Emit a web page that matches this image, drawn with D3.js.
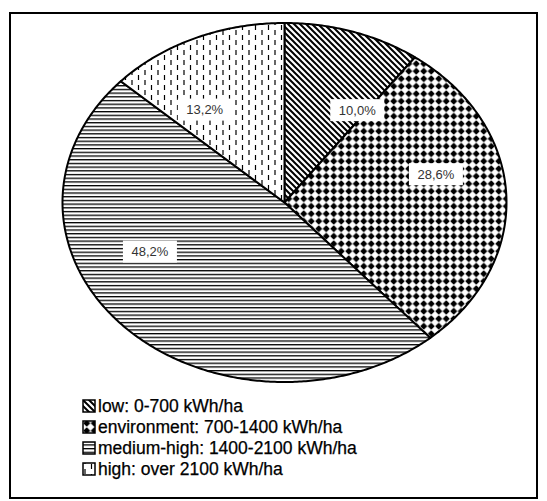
<!DOCTYPE html>
<html><head><meta charset="utf-8">
<script src="https://cdn.jsdelivr.net/npm/d3@7"></script>
<style>html,body{margin:0;padding:0;background:#fff;}svg{display:block;}</style>
</head><body>
<svg id="chart" width="547" height="501"></svg>
<script>
// ---- data ----
const categories = ["low: 0-700 kWh/ha", "environment: 700-1400 kWh/ha", "medium-high: 1400-2100 kWh/ha", "high: over 2100 kWh/ha"];
const values = [10.0, 28.6, 48.2, 13.2];
const valueLabels = ["10,0%", "28,6%", "48,2%", "13,2%"];

// ---- layout ----
const W = 547, H = 501;
const cx = 284.5, cy = 202.5, rx = 222, ry = 179.5;
const patternIds = ["pLow", "pEnv", "pMed", "pHigh"];
// label placement (angle offset in degrees, radius fraction) to mimic the original layout
const labelAngleOffset = [14.5, -10.5, 20, -11];
const labelRadius = [0.61, 0.70, 0.665, 0.63];

const svg = d3.select("#chart");
const defs = svg.append("defs");

// patterns
const pLow = defs.append("pattern").attr("id", "pLow").attr("patternUnits", "userSpaceOnUse")
  .attr("width", 6).attr("height", 6);
pLow.append("rect").attr("width", 6).attr("height", 6).attr("fill", "#fff");
pLow.append("path").attr("d", "M-1,-1L7,7M-1,5L1,7M5,-1L7,1").attr("stroke", "#000").attr("stroke-width", 2);

const pEnv = defs.append("pattern").attr("id", "pEnv").attr("patternUnits", "userSpaceOnUse")
  .attr("width", 7.5).attr("height", 7.5);
pEnv.append("rect").attr("width", 7.5).attr("height", 7.5).attr("fill", "#fff");
pEnv.append("path").attr("d", "M3.75,0.2L7.3,3.75L3.75,7.3L0.2,3.75Z").attr("fill", "#000");
pEnv.append("circle").attr("cx", 3.75).attr("cy", 3.75).attr("r", 2.3).attr("fill", "#000");

const pMed = defs.append("pattern").attr("id", "pMed").attr("patternUnits", "userSpaceOnUse")
  .attr("width", 8).attr("height", 3.7);
pMed.append("rect").attr("width", 8).attr("height", 3.7).attr("fill", "#fff");
pMed.append("rect").attr("y", 0).attr("width", 8).attr("height", 1.3).attr("fill", "#000");

const pHigh = defs.append("pattern").attr("id", "pHigh").attr("patternUnits", "userSpaceOnUse")
  .attr("width", 13).attr("height", 10);
pHigh.append("rect").attr("width", 13).attr("height", 10).attr("fill", "#fff");
pHigh.append("path").attr("d", "M2,0V5M8.5,5V10").attr("stroke", "#000").attr("stroke-width", 1.2);

// outer frame
svg.append("rect").attr("x", 10).attr("y", 13).attr("width", 527).attr("height", 485)
  .attr("fill", "#fff").attr("stroke", "#000").attr("stroke-width", 2);

// scales mapping unit ellipse to pixels
const xS = d3.scaleLinear().domain([-1, 1]).range([cx - rx, cx + rx]);
const yS = d3.scaleLinear().domain([-1, 1]).range([cy - ry, cy + ry]);

const pie = d3.pie().sort(null).value(d => d);
const arcs = pie(values);

function slicePath(a) {
  const n = Math.max(4, Math.ceil((a.endAngle - a.startAngle) / 0.01));
  const pts = [[xS(0), yS(0)]];
  for (let i = 0; i <= n; i++) {
    const t = a.startAngle + (a.endAngle - a.startAngle) * i / n;
    pts.push([xS(Math.sin(t)), yS(-Math.cos(t))]);
  }
  return d3.line()(pts) + "Z";
}

const g = svg.append("g");
g.selectAll("path.slice").data(arcs).join("path")
  .attr("class", "slice")
  .attr("d", slicePath)
  .attr("fill", (d, i) => `url(#${patternIds[i]})`)
  .attr("stroke", "#000").attr("stroke-width", 2).attr("stroke-linejoin", "round");

// labels
const lab = g.selectAll("g.lab").data(arcs).join("g").attr("class", "lab")
  .attr("transform", (d, i) => {
    const m = (d.startAngle + d.endAngle) / 2 + labelAngleOffset[i] * Math.PI / 180;
    const r = labelRadius[i];
    return `translate(${xS(r * Math.sin(m))},${yS(-r * Math.cos(m))})`;
  });
lab.append("rect").attr("x", -27).attr("y", -11).attr("width", 54).attr("height", 22).attr("fill", "#fff");
lab.append("text").attr("text-anchor", "middle").attr("dy", "0.35em")
  .attr("font-family", "Liberation Sans, Arial, sans-serif").attr("font-size", 13).attr("fill", "#333")
  .text((d, i) => valueLabels[i]);

// legend
const leg = svg.append("g").selectAll("g").data(categories).join("g")
  .attr("transform", (d, i) => `translate(83,${406 + i * 21})`);
leg.append("rect").attr("x", 0).attr("y", -6).attr("width", 12).attr("height", 12)
  .attr("fill", (d, i) => `url(#${patternIds[i]})`).attr("stroke", "#000").attr("stroke-width", 1.5);
leg.append("text").attr("x", 15).attr("dy", "0.36em")
  .attr("font-family", "Liberation Sans, Arial, sans-serif").attr("font-size", 17.5).attr("fill", "#000")
  .attr("stroke", "#000").attr("stroke-width", 0.25)
  .text(d => d);
</script>
</body></html>
